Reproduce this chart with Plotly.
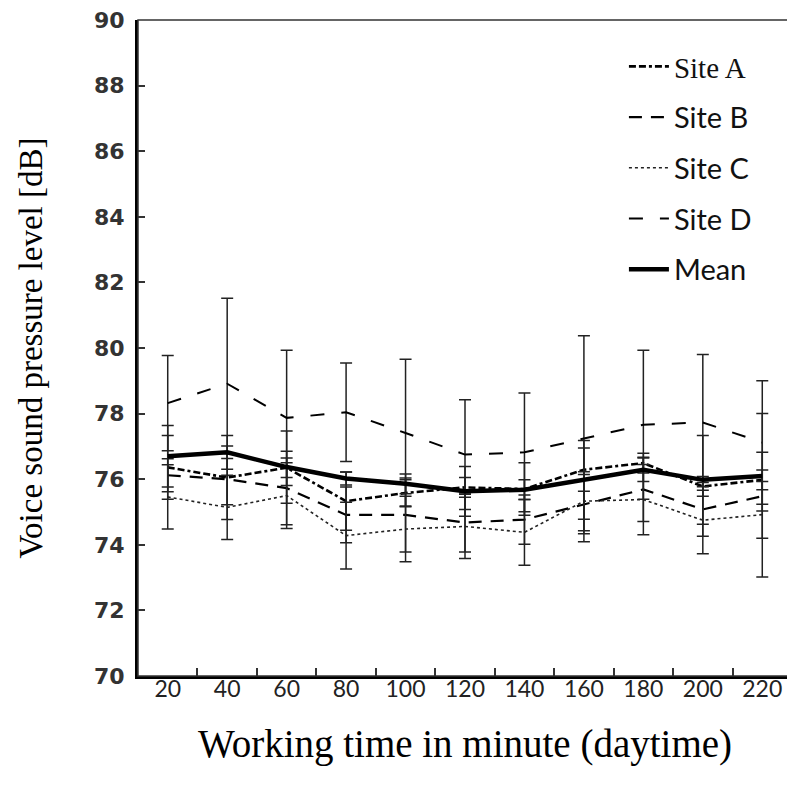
import plotly.graph_objects as go

time_min = [20, 40, 60, 80, 100, 120, 140, 160, 180, 200, 220]
minor_ticks = [30, 50, 70, 90, 110, 130, 150, 170, 190, 210]
y_ticks = [70, 72, 74, 76, 78, 80, 82, 84, 86, 88, 90]

site_a = [76.36, 76.05, 76.35, 75.33, 75.58, 75.75, 75.70, 76.29, 76.49, 75.78, 75.98]
site_b = [76.12, 76.00, 75.73, 74.91, 74.91, 74.68, 74.77, 75.24, 75.69, 75.08, 75.48]
site_c = [75.46, 75.14, 75.50, 74.28, 74.48, 74.56, 74.38, 75.33, 75.38, 74.75, 74.92]
site_d = [78.32, 78.91, 77.87, 78.04, 77.41, 76.75, 76.82, 77.23, 77.66, 77.73, 77.12]
mean_v = [76.70, 76.82, 76.37, 76.02, 75.86, 75.63, 75.68, 75.98, 76.29, 75.98, 76.10]

err_a = [0.97, 1.28, 0.30, 0.89, 0.40, 0.30, 0.80, 0.66, 0.30, 0.30, 0.30]
err_b = [0.50, 0.78, 1.12, 0.85, 1.13, 0.90, 0.75, 0.90, 0.98, 0.82, 0.45]
err_c = [0.98, 0.98, 1.00, 1.02, 1.00, 0.98, 1.00, 0.90, 1.07, 1.02, 1.90]
err_d = [1.45, 2.61, 2.06, 1.50, 2.25, 1.67, 1.81, 3.14, 2.27, 2.07, 1.88]
err_mean = [0.94, 0.19, 1.10, 0.20, 0.30, 0.76, 0.30, 1.20, 0.36, 1.35, 1.90]

series = [
    ("<span style='font-family:Liberation Serif'>Site A</span>", site_a, err_a, dict(color="black", width=2.6, dash="7px,3px,7px,3px,3px,3px")),
    ("Site B", site_b, err_b, dict(color="black", width=2.2, dash="13px,9px")),
    ("Site C", site_c, err_c, dict(color="#222", width=1.6, dash="dot")),
    ("Site D", site_d, err_d, dict(color="black", width=2.0, dash="14px,17px")),
    ("Mean", mean_v, err_mean, dict(color="black", width=4.5)),
]

fig = go.Figure()
for i, (name, vals, errs, line) in enumerate(series):
    fig.add_trace(go.Scatter(
        x=time_min, y=vals, name=name, mode="lines", line=line,
        legendgroup=f"g{i}",
        error_y=dict(type="data", array=errs, visible=True, color="#222",
                     thickness=1.5, width=6),
    ))

fig.update_layout(
    width=795, height=795,
    margin=dict(l=130, r=11, t=12, b=127),
    paper_bgcolor="white", plot_bgcolor="white",
    showlegend=True,
    legend=dict(x=0.743, y=0.968, xanchor="left", yanchor="top",
                font=dict(family="Lato", size=29, color="#111"),
                tracegroupgap=10, bgcolor="rgba(0,0,0,0)", itemwidth=40),
    shapes=[dict(type="rect", xref="paper", yref="paper", x0=0, x1=1, y0=0, y1=1,
                 line=dict(color="#333", width=1.5), layer="above")],
)
fig.update_xaxes(
    range=[10, 230], tickvals=time_min, ticktext=[str(t) for t in time_min],
    ticks="", showgrid=False, zeroline=False, automargin=False,
    showline=True, linewidth=3, linecolor="black",
    tickfont=dict(family="Lato", size=23, color="#222"),
    ticklabelstandoff=-10, ticklabeloverflow="allow",
    minor=dict(tickvals=minor_ticks, ticks="inside", ticklen=8, tickcolor="#333", tickwidth=1.5),
    title=dict(text="Working time in minute (daytime)",
               font=dict(family="Liberation Serif", size=39, color="black"), standoff=30),
)
fig.update_yaxes(
    range=[70, 90], tickvals=y_ticks, ticks="inside", ticklen=7, tickwidth=1.5, tickcolor="#333",
    showgrid=False, zeroline=False, automargin=False,
    showline=True, linewidth=3, linecolor="black",
    tickfont=dict(family="DejaVu Sans", size=22, color="#333", weight="bold"),
    ticklabelstandoff=6, ticklabeloverflow="allow",
    title=dict(text="Voice sound pressure level [dB]",
               font=dict(family="Liberation Serif", size=33, color="black"), standoff=42),
)

fig.write_html("out.html")
